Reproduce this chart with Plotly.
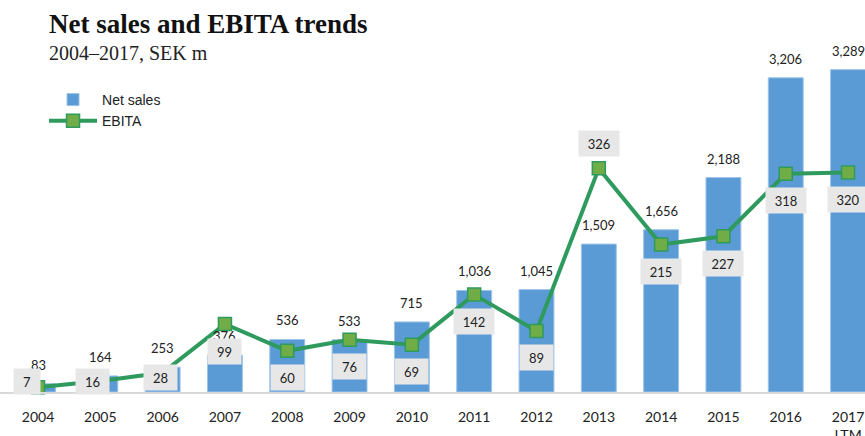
import plotly.graph_objects as go

# ---- data ----
years = ["2004", "2005", "2006", "2007", "2008", "2009", "2010",
         "2011", "2012", "2013", "2014", "2015", "2016", "2017<br>LTM"]
net_sales = [83, 164, 253, 376, 536, 533, 715, 1036, 1045, 1509, 1656, 2188, 3206, 3289]
ebita = [7, 16, 28, 99, 60, 76, 69, 142, 89, 326, 215, 227, 318, 320]

# ---- label placement (style only, pixel offsets dx, dy) ----
ebita_label_offsets = [(-11, 6), (-8, 0), (-2, -5), (0, -27), (0, -27), (0, -27), (0, -27),
                       (0, -27), (0, -27), (0, 25), (0, -27), (0, -27), (0, -27), (0, -27)]

BAR_BLUE = "#5B9BD5"
LINE_GREEN = "#2E9A5E"
MARKER_GREEN = "#70AD47"
LABEL_FONT = dict(family="Lato, Carlito, sans-serif", size=13, color="#222222")

fig = go.Figure()
fig.add_trace(go.Bar(
    x=years, y=net_sales, name="Net sales",
    marker=dict(color=BAR_BLUE, line=dict(color="#9CC3E8", width=1)),
    yaxis="y", hoverinfo="x+y",
))
fig.add_trace(go.Scatter(
    x=years, y=ebita, name="EBITA", mode="lines+markers",
    line=dict(color=LINE_GREEN, width=4),
    marker=dict(symbol="square", size=13, color=MARKER_GREEN,
                line=dict(color=LINE_GREEN, width=1.5)),
    yaxis="y2", cliponaxis=False,
))

annotations = []
# net sales labels above bars (x given as category index)
for i, v in enumerate(net_sales):
    annotations.append(dict(
        x=i, y=v, xref="x", yref="y", text=f"{v:,}", showarrow=False,
        yshift=19, font=LABEL_FONT,
    ))
# EBITA labels in grey boxes
for i, (v, (dx, dy)) in enumerate(zip(ebita, ebita_label_offsets)):
    t = str(v)
    annotations.append(dict(
        x=i, y=v, xref="x", yref="y2", text=t, showarrow=False,
        xshift=dx, yshift=dy, font=dict(LABEL_FONT, size=13),
        bgcolor="#E7E7E7", borderpad=0, width=19 + 7 * len(t), height=25,
    ))
# title & subtitle
annotations.append(dict(
    x=0.0543, y=1.072, xref="paper", yref="paper", xanchor="left", yanchor="middle",
    text="<b>Net sales and EBITA trends</b>", showarrow=False,
    font=dict(family="Liberation Serif, serif", size=27, color="#111111"),
))
annotations.append(dict(
    x=0.0543, y=0.988, xref="paper", yref="paper", xanchor="left", yanchor="middle",
    text="2004–2017, SEK m", showarrow=False,
    font=dict(family="Liberation Serif, serif", size=20, color="#222222"),
))

fig.update_layout(
    width=865, height=436,
    margin=dict(l=0, r=0, t=49, b=44, autoexpand=False),
    paper_bgcolor="white", plot_bgcolor="white",
    bargap=0.44,
    showlegend=True,
    legend=dict(x=0.0509, y=0.898, xanchor="left", yanchor="top",
                bgcolor="rgba(0,0,0,0)", itemwidth=48,
                font=dict(family="Liberation Sans, Arial, sans-serif", size=14, color="#222222"),
                tracegroupgap=0),
    xaxis=dict(type="category", categoryorder="array", categoryarray=years,
               range=[-0.610, 13.272], showline=True, linecolor="#D9D9D9", linewidth=1.5,
               showgrid=False, ticks="", zeroline=False, ticklabelstandoff=11,
               automargin=False,
               tickfont=dict(family="Lato, Carlito, sans-serif", size=14, color="#222222")),
    yaxis=dict(range=[0, 3500], visible=False, showgrid=False, zeroline=False, automargin=False),
    yaxis2=dict(range=[0, 500], overlaying="y", visible=False, showgrid=False, zeroline=False,
                automargin=False),
    annotations=annotations,
)

# remove the browser's default 8px page margin so the figure fills the window
fig.write_html(
    "out.html",
    config={"displayModeBar": False},
    post_script="document.body.style.margin='0';document.body.style.overflow='hidden';",
)
